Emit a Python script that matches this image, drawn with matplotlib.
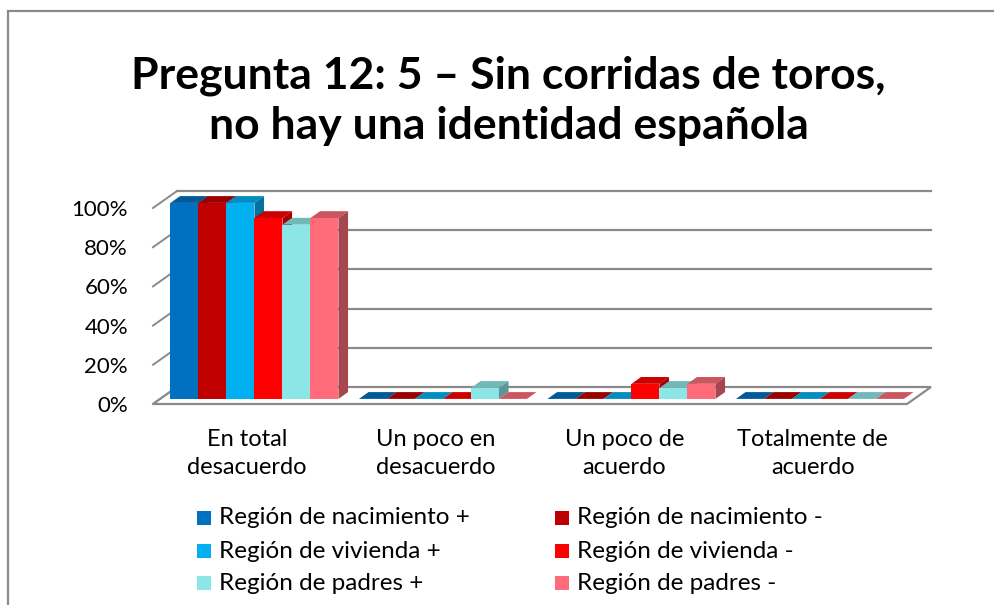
import matplotlib.pyplot as plt
import numpy as np
from matplotlib.patches import Polygon, Rectangle
from matplotlib.colors import to_rgb

plt.rcParams['font.family'] = ['Lato', 'DejaVu Sans']

categorias = ["En total\ndesacuerdo", "Un poco en\ndesacuerdo", "Un poco de\nacuerdo", "Totalmente de\nacuerdo"]
series = ["Región de nacimiento +", "Región de nacimiento -", "Región de vivienda +",
          "Región de vivienda -", "Región de padres +", "Región de padres -"]
nac_mas = [100, 0, 0, 0]
nac_menos = [100, 0, 0, 0]
viv_mas = [100, 0, 0, 0]
viv_menos = [92.3, 0, 7.7, 0]
pad_mas = [88.9, 5.6, 5.6, 0]
pad_menos = [92.3, 0, 7.7, 0]
colores = ["#0070C0", "#C00000", "#00B0F0", "#FF0000", "#8DE6E6", "#FF6B78"]
datos = [nac_mas, nac_menos, viv_mas, viv_menos, pad_mas, pad_menos]

def oscuro(c, f):
    r, g, b = to_rgb(c)
    return (r * f, g * f, b * f)

fig = plt.figure(figsize=(9.95, 6.05), dpi=100)
W, H = 995, 605
ax = fig.add_axes([153 / W, (H - 404) / H, (907 - 153) / W, (404 - 208) / H])
ax.set_xlim(-0.5, 3.5)
ax.set_ylim(0, 100)

# profundidad 3D en unidades de datos
DX = 24 / 188.5
DY = 17 / 196 * 100
d0, d1 = 0.3, 0.7
ancho = 28 / 188.5

# paredes: rejilla del fondo y lineas diagonales de la izquierda
gris = "#8A8A8A"
for v in range(20, 101, 20):
    ax.plot([-0.5 + DX, 3.5 + DX], [v + DY, v + DY], color=gris, lw=1.6, zorder=1, clip_on=False)
for v in range(0, 101, 20):
    ax.plot([-0.5, -0.5 + DX], [v, v + DY], color=gris, lw=1.4, zorder=1, clip_on=False)
suelo = Polygon([(-0.5, 0), (3.5, 0), (3.5 + DX, DY), (-0.5 + DX, DY)], closed=True,
                facecolor="white", edgecolor=gris, lw=1.6, zorder=1, clip_on=False)
ax.add_patch(suelo)

x = np.arange(len(categorias))
z = 3
for i, (vals, col) in enumerate(zip(datos, colores)):
    xs = x + d0 * DX + (i - 2.5) * ancho
    y0 = d0 * DY
    dx = (d1 - d0) * DX
    dy = (d1 - d0) * DY
    for j in range(len(x)):
        xc = xs[j]
        h = vals[j]
        xl, xr = xc - ancho / 2, xc + ancho / 2
        ax.bar(xc, h, ancho, bottom=y0, color=col, zorder=z, clip_on=False)
        ax.add_patch(Polygon([(xl, y0 + h), (xr, y0 + h), (xr + dx, y0 + h + dy), (xl + dx, y0 + h + dy)],
                             closed=True, facecolor=oscuro(col, 0.8), edgecolor='none', zorder=z, clip_on=False))
        ax.add_patch(Polygon([(xr, y0), (xr + dx, y0 + dy), (xr + dx, y0 + h + dy), (xr, y0 + h)],
                             closed=True, facecolor=oscuro(col, 0.65), edgecolor='none', zorder=z, clip_on=False))
    z += 1

for s in ax.spines.values():
    s.set_visible(False)
ax.set_yticks(range(0, 101, 20), [f"{v}%" for v in range(0, 101, 20)], fontsize=16)
ax.set_xticks(x, categorias, fontsize=17, linespacing=1.4)
ax.tick_params(axis='y', length=0, pad=18)
ax.tick_params(axis='x', length=0, pad=18)

fig.text(0.511, 0.833, "Pregunta 12: 5 – Sin corridas de toros,\nno hay una identidad española",
         ha='center', va='center', fontsize=32, fontweight='bold', linespacing=1.3)

# leyenda
filas = [518, 551, 583]
cols = [197, 555]
for k, (nombre, col) in enumerate(zip(series, colores)):
    cx = cols[k % 2]
    cy = filas[k // 2]
    fig.patches.append(Rectangle((cx / W, (H - cy - 7) / H), 14 / W, 14 / H, transform=fig.transFigure,
                                 facecolor=col, edgecolor='none'))
    fig.text((cx + 22) / W, (H - cy) / H, nombre, ha='left', va='center', fontsize=17.5)

# borde del grafico
fig.patches.append(Rectangle((8 / W, -0.1), 1.2, (H - 11) / H + 0.1, transform=fig.transFigure,
                             facecolor='none', edgecolor=gris, lw=1.6))

fig.savefig("out.png", dpi=100)
